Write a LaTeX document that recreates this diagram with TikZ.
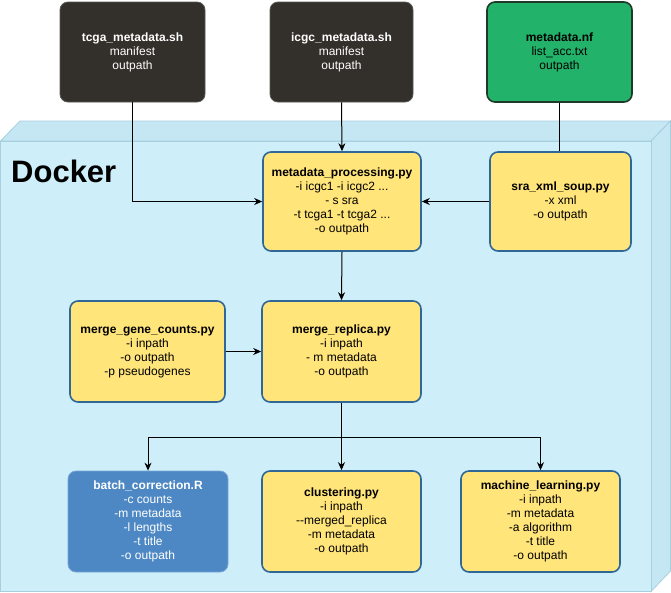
\documentclass[tikz,border=0pt]{standalone}
\usepackage{fontspec}
\setmainfont{Liberation Sans}
\usetikzlibrary{arrows.meta}
\definecolor{dockerfront}{HTML}{CEEEF9}
\definecolor{dockerside}{HTML}{C5E7F3}
\definecolor{dockerline}{HTML}{A8CFDD}
\definecolor{boxyellow}{HTML}{FFE57A}
\definecolor{boxborder}{HTML}{2F6797}
\definecolor{darkbox}{HTML}{33302B}
\definecolor{darkborder}{HTML}{5A5752}
\definecolor{greenbox}{HTML}{23B26A}
\definecolor{greenborder}{HTML}{1E3A28}
\definecolor{bluebox}{HTML}{4D88C4}
\definecolor{blueborder}{HTML}{7AA6D6}
\tikzset{
  base/.style={rectangle, rounded corners=8pt, align=center, inner sep=0pt,
    font=\fontsize{12}{14}\selectfont, line width=1.6pt},
  darknode/.style={base, fill=darkbox, draw=darkborder, text=white, line width=0.8pt},
  greennode/.style={base, fill=greenbox, draw=greenborder, text=black},
  yellownode/.style={base, fill=boxyellow, draw=boxborder, text=black},
  bluenode/.style={base, fill=bluebox, draw=blueborder, text=white, line width=0.8pt},
  conn/.style={draw=black, line width=1pt, -{Stealth[length=8pt,width=7pt]}},
  plainconn/.style={draw=black, line width=1pt},
}
\begin{document}
\begin{tikzpicture}[x=1pt,y=-1pt]
\useasboundingbox (0,0) rectangle (671,592);
% Docker cube
\filldraw[fill=dockerside, draw=dockerline, line width=0.8pt]
  (0.5,141) -- (20,121) -- (670.5,121) -- (651,141) -- cycle;
\filldraw[fill=dockerside, draw=dockerline, line width=0.8pt]
  (651,141) -- (670.5,121) -- (670.5,571) -- (651,591.5) -- cycle;
\filldraw[fill=dockerfront, draw=dockerline, line width=0.8pt]
  (0.5,141) rectangle (651,591.5);
\node[anchor=west, font=\fontsize{31}{31}\selectfont\bfseries, inner sep=0pt] (docker) at (11,171) {Docker};

% nodes
\node[darknode, minimum width=145pt, minimum height=100pt] (tcga) at (132.5,52)
  {\textbf{tcga\_metadata.sh}\\manifest\\outpath};
\node[darknode, minimum width=143pt, minimum height=100pt] (icgc) at (341.5,52)
  {\textbf{icgc\_metadata.sh}\\manifest\\outpath};
\node[greennode, minimum width=145pt, minimum height=100pt] (nf) at (559.5,52)
  {\textbf{metadata.nf}\\list\_acc.txt\\outpath};
\node[yellownode, minimum width=158pt, minimum height=99pt] (proc) at (342,201.5)
  {\textbf{metadata\_processing.py}\\-i icgc1 -i icgc2 ...\\- s sra\\-t tcga1 -t tcga2 ...\\-o outpath};
\node[yellownode, minimum width=141pt, minimum height=99pt] (sra) at (560.5,201.5)
  {\textbf{sra\_xml\_soup.py}\\-x xml\\-o outpath};
\node[yellownode, minimum width=155pt, minimum height=101pt] (mgc) at (147.5,351.5)
  {\textbf{merge\_gene\_counts.py}\\-i inpath\\-o outpath\\-p pseudogenes};
\node[yellownode, minimum width=159pt, minimum height=101pt] (mr) at (341.5,351.5)
  {\textbf{merge\_replica.py}\\-i inpath\\- m metadata\\-o outpath};
\node[bluenode, minimum width=160pt, minimum height=101pt] (batch) at (148,521.5)
  {\textbf{batch\_correction.R}\\-c counts\\-m metadata\\-l lengths\\-t title\\-o outpath};
\node[yellownode, minimum width=159pt, minimum height=101pt] (clus) at (341.5,521.5)
  {\textbf{clustering.py}\\-i inpath\\-{}-merged\_replica\\-m metadata\\-o outpath};
\node[yellownode, minimum width=159pt, minimum height=101pt] (ml) at (540.5,521.5)
  {\textbf{machine\_learning.py}\\-i inpath\\-m metadata\\-a algorithm\\-t title\\-o outpath};

% connectors
\draw[conn] (tcga.south) |- (proc.west);
\draw[conn] (icgc.south) -- (proc.north);
\draw[plainconn] (nf.south) -- (nf.south |- sra.north);
\draw[conn] (sra.west) -- (proc.east);
\draw[conn] (proc.south) -- (mr.north);
\draw[conn] (mgc.east) -- (mr.west);
\coordinate (split) at (341.5,437);
\draw[plainconn] (mr.south) -- (split);
\draw[conn] (split) -| (batch.north);
\draw[conn] (split) -- (clus.north);
\draw[conn] (split) -| (ml.north);
\end{tikzpicture}
\end{document}
